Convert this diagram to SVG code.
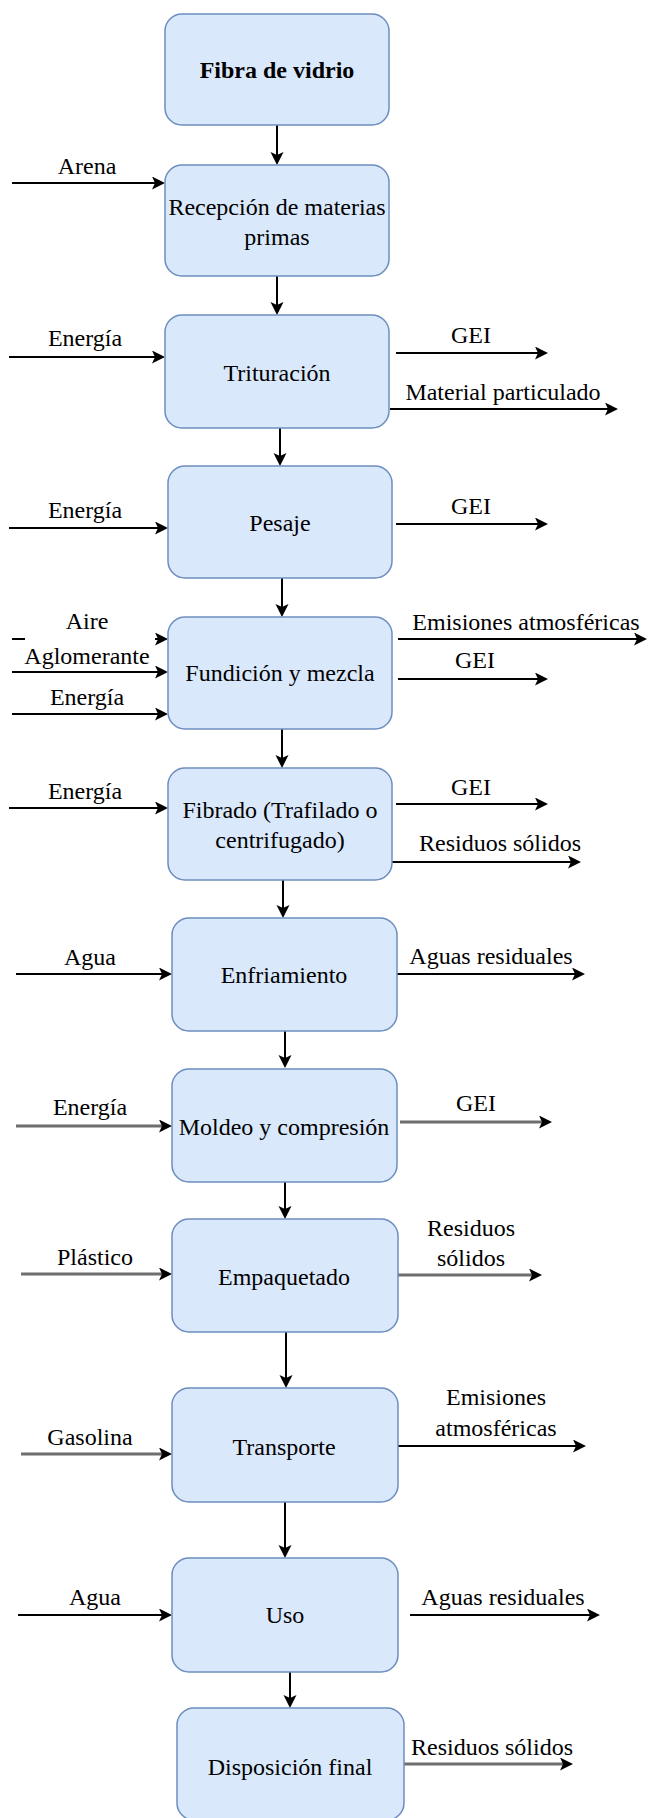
<svg xmlns="http://www.w3.org/2000/svg" width="648" height="1818" viewBox="0 0 648 1818">
  <defs>
    <marker id="arrow" markerUnits="userSpaceOnUse" markerWidth="14" markerHeight="14" refX="7" refY="6.5" orient="auto">
      <path d="M0,0 L13,6.5 L0,13 L3,6.5 z" fill="#000"/>
    </marker>
    <style>
      .box { fill: #dae8fc; stroke: #6c8ebf; stroke-width: 1.5; }
      .t { font-family: "Liberation Serif", "Times New Roman", serif; font-size: 24px; fill: #000; text-anchor: middle; }
      .b { font-weight: bold; }
      .c { fill: none; stroke: #000; stroke-width: 2; marker-end: url(#arrow); }
      .g { stroke: #6e6e6e; stroke-width: 3; }
    </style>
  </defs>
  <rect width="648" height="1818" fill="#fff"/>

  <!-- flow connectors -->
  <g id="connectors">
    <!-- main vertical sequence -->
    <path class="c" d="M277,125 V159"/>
    <path class="c" d="M277,276 V309"/>
    <path class="c" d="M280,428 V460"/>
    <path class="c" d="M282,578 V611"/>
    <path class="c" d="M282,729 V762"/>
    <path class="c" d="M283,880 V912"/>
    <path class="c" d="M285,1031 V1062"/>
    <path class="c" d="M285,1182 V1213"/>
    <path class="c" d="M286,1332 V1382"/>
    <path class="c" d="M285,1502 V1552"/>
    <path class="c" d="M290,1672 V1702"/>

    <!-- inputs -->
    <path class="c" d="M12,183 H159"/>
    <path class="c" d="M9,357 H159"/>
    <path class="c" d="M9,528 H162"/>
    <path class="c" d="M12,639 H162"/>
    <path class="c" d="M12,672 H162"/>
    <path class="c" d="M12,714 H162"/>
    <path class="c" d="M9,808 H162"/>
    <path class="c" d="M16,974 H166"/>
    <path class="c g" d="M16,1126 H166"/>
    <path class="c g" d="M21,1274 H166"/>
    <path class="c g" d="M21,1454 H166"/>
    <path class="c" d="M18,1615 H166"/>

    <!-- outputs -->
    <path class="c" d="M396,353 H542"/>
    <path class="c" d="M390,409 H612"/>
    <path class="c" d="M396,524 H542"/>
    <path class="c" d="M398,639 H641"/>
    <path class="c" d="M398,679 H542"/>
    <path class="c" d="M396,804 H542"/>
    <path class="c" d="M392,862 H575"/>
    <path class="c" d="M395,974 H579"/>
    <path class="c g" d="M400,1122 H546"/>
    <path class="c g" d="M398,1275 H536"/>
    <path class="c" d="M398,1446 H580"/>
    <path class="c" d="M410,1615 H594"/>
    <path class="c g" d="M404,1764 H567"/>
  </g>

  <!-- input / output labels -->
  <g id="labels">
    <text class="t" x="87" y="174">Arena</text>
    <text class="t" x="85" y="346">Energía</text>
    <text class="t" x="85" y="518">Energía</text>
    <text class="t" x="87" y="629">Aire</text>
    <!-- opaque label background of "Aglomerante" hides most of the Aire line -->
    <rect x="25" y="633" width="130" height="36" fill="#fff"/>
    <text class="t" x="87" y="664">Aglomerante</text>
    <text class="t" x="87" y="705">Energía</text>
    <text class="t" x="85" y="799">Energía</text>
    <text class="t" x="90" y="965">Agua</text>
    <text class="t" x="90" y="1115">Energía</text>
    <text class="t" x="95" y="1265">Plástico</text>
    <text class="t" x="90" y="1445">Gasolina</text>
    <text class="t" x="95" y="1605">Agua</text>

    <text class="t" x="471" y="343">GEI</text>
    <text class="t" x="503" y="400">Material particulado</text>
    <text class="t" x="471" y="514">GEI</text>
    <text class="t" x="526" y="630">Emisiones atmosféricas</text>
    <text class="t" x="475" y="668">GEI</text>
    <text class="t" x="471" y="795">GEI</text>
    <text class="t" x="500" y="851">Residuos sólidos</text>
    <text class="t" x="491" y="964">Aguas residuales</text>
    <text class="t" x="476" y="1111">GEI</text>
    <text class="t" x="471" y="1236">Residuos</text>
    <text class="t" x="471" y="1266">sólidos</text>
    <text class="t" x="496" y="1405">Emisiones</text>
    <text class="t" x="496" y="1436">atmosféricas</text>
    <text class="t" x="503" y="1605">Aguas residuales</text>
    <text class="t" x="492" y="1755">Residuos sólidos</text>
  </g>

  <!-- process steps -->
  <g id="fibra">
    <rect class="box" x="165" y="14" width="224" height="111" rx="17"/>
    <text class="t b" x="277" y="78">Fibra de vidrio</text>
  </g>
  <g id="recepcion">
    <rect class="box" x="165" y="165" width="224" height="111" rx="17"/>
    <text class="t" x="277" y="215">Recepción de materias</text>
    <text class="t" x="277" y="245">primas</text>
  </g>
  <g id="trituracion">
    <rect class="box" x="165" y="315" width="224" height="113" rx="17"/>
    <text class="t" x="277" y="381">Trituración</text>
  </g>
  <g id="pesaje">
    <rect class="box" x="168" y="466" width="224" height="112" rx="17"/>
    <text class="t" x="280" y="531">Pesaje</text>
  </g>
  <g id="fundicion">
    <rect class="box" x="168" y="617" width="224" height="112" rx="17"/>
    <text class="t" x="280" y="681">Fundición y mezcla</text>
  </g>
  <g id="fibrado">
    <rect class="box" x="168" y="768" width="224" height="112" rx="17"/>
    <text class="t" x="280" y="818">Fibrado (Trafilado o</text>
    <text class="t" x="280" y="848">centrifugado)</text>
  </g>
  <g id="enfriamiento">
    <rect class="box" x="172" y="918" width="225" height="113" rx="17"/>
    <text class="t" x="284" y="983">Enfriamiento</text>
  </g>
  <g id="moldeo">
    <rect class="box" x="172" y="1069" width="225" height="113" rx="17"/>
    <text class="t" x="284" y="1135">Moldeo y compresión</text>
  </g>
  <g id="empaquetado">
    <rect class="box" x="172" y="1219" width="226" height="113" rx="17"/>
    <text class="t" x="284" y="1285">Empaquetado</text>
  </g>
  <g id="transporte">
    <rect class="box" x="172" y="1388" width="226" height="114" rx="17"/>
    <text class="t" x="284" y="1455">Transporte</text>
  </g>
  <g id="uso">
    <rect class="box" x="172" y="1558" width="226" height="114" rx="17"/>
    <text class="t" x="285" y="1623">Uso</text>
  </g>
  <g id="disposicion">
    <rect class="box" x="177" y="1708" width="227" height="112" rx="17"/>
    <text class="t" x="290" y="1775">Disposición final</text>
  </g>
</svg>
